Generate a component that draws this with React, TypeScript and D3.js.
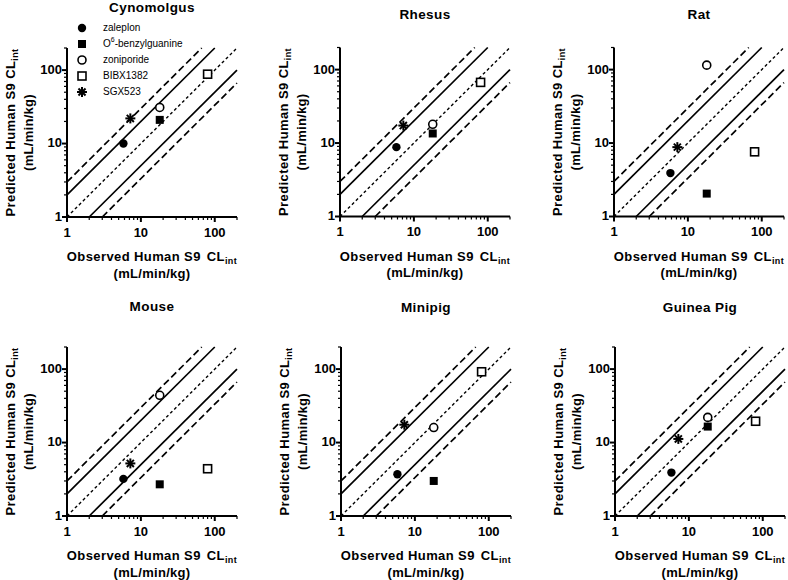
import React from "react";
import * as d3 from "d3";

const speciesNames = ["Cynomolgus", "Rhesus", "Rat", "Mouse", "Minipig", "Guinea Pig"];
const compounds = ["zaleplon", "O6-benzylguanine", "zoniporide", "BIBX1382", "SGX523"];
const compoundSymbols = ["circle", "square", "circleOpen", "squareOpen", "asterisk"];
const observedCL = [5.8, 18, 18, 80, 7.2];
const predCynomolgus = [10, 21, 31, 88, 22];
const predRhesus = [8.8, 13.5, 18, 67, 17.3];
const predRat = [3.9, 2.05, 115, 7.6, 8.8];
const predMouse = [3.2, 2.7, 44, 4.4, 5.2];
const predMinipig = [3.7, 3.0, 16, 92, 17.5];
const predGuineaPig = [3.9, 16.5, 22, 19.5, 11.2];
const predictedBySpecies = [predCynomolgus, predRhesus, predRat, predMouse, predMinipig, predGuineaPig];
const majorTicks = [1, 10, 100];
const minorTicks = [2, 3, 4, 5, 6, 7, 8, 9, 20, 30, 40, 50, 60, 70, 80, 90, 200];
const foldLines = [
  { f: 3, style: "dash" },
  { f: 2, style: "solid" },
  { f: 1, style: "dot" },
  { f: 0.5, style: "solid" },
  { f: 1 / 3, style: "dash" },
];

const FONT = "'Liberation Sans', Arial, Helvetica, sans-serif";
const W = 788, H = 580;

// panel layout: x of y-axis, y of x-axis, title y
const panelLayout = [
  { x0: 67, y0: 217, ty: 8 },
  { x0: 340, y0: 216.5, ty: 15 },
  { x0: 614, y0: 216.5, ty: 15 },
  { x0: 67, y0: 516, ty: 307 },
  { x0: 341, y0: 516, ty: 308 },
  { x0: 615, y0: 516, ty: 308 },
];
const PW = 170, PH = 169;

function Marker({ type, x, y }: { type: string; x: number; y: number }) {
  if (type === "circle") return <circle cx={x} cy={y} r={4.2} fill="#000" />;
  if (type === "circleOpen") return <circle cx={x} cy={y} r={4} fill="#fff" stroke="#000" strokeWidth={1.6} />;
  if (type === "square") return <rect x={x - 4} y={y - 4} width={8} height={8} fill="#000" />;
  if (type === "squareOpen") return <rect x={x - 4} y={y - 4} width={8} height={8} fill="#fff" stroke="#000" strokeWidth={1.6} />;
  const r = 5;
  const angles = [0, 45, 90, 135];
  return (
    <g>
      {angles.map((a) => {
        const rad = (a * Math.PI) / 180;
        return (
          <line key={a} x1={x - r * Math.cos(rad)} y1={y - r * Math.sin(rad)} x2={x + r * Math.cos(rad)} y2={y + r * Math.sin(rad)} stroke="#000" strokeWidth={2} />
        );
      })}
    </g>
  );
}

function Panel({ idx }: { idx: number }) {
  const L = panelLayout[idx];
  const x = d3.scaleLog().domain([1, 200]).range([L.x0, L.x0 + PW]);
  const y = d3.scaleLog().domain([1, 200]).range([L.y0, L.y0 - PH]);
  const preds = predictedBySpecies[idx];
  const cx = L.x0 + PW / 2;
  const cy = L.y0 - PH / 2;
  return (
    <g>
      <text x={cx} y={L.ty} textAnchor="middle" dominantBaseline="middle" fontFamily={FONT} fontWeight="bold" fontSize={13.5} letterSpacing={0.4}>
        {speciesNames[idx]}
      </text>
      {foldLines.map((fl, i) => {
        const xs = Math.max(1, 1 / fl.f);
        const xe = Math.min(200, 200 / fl.f);
        const dash = fl.style === "dash" ? "7,3.5" : fl.style === "dot" ? "3,2.6" : undefined;
        return (
          <line key={i} x1={x(xs)} y1={y(xs * fl.f)} x2={x(xe)} y2={y(xe * fl.f)} stroke="#000" strokeWidth={fl.style === "dot" ? 1.4 : 1.7} strokeDasharray={dash} />
        );
      })}
      {/* axes */}
      <line x1={L.x0} y1={L.y0} x2={L.x0 + PW} y2={L.y0} stroke="#000" strokeWidth={2} />
      <line x1={L.x0} y1={L.y0 + 1} x2={L.x0} y2={L.y0 - PH} stroke="#000" strokeWidth={2} />
      {majorTicks.map((t) => (
        <g key={"mx" + t}>
          <line x1={x(t)} y1={L.y0} x2={x(t)} y2={L.y0 + 5} stroke="#000" strokeWidth={2} />
          <text x={x(t)} y={L.y0 + 16.5} textAnchor="middle" dominantBaseline="middle" fontFamily={FONT} fontWeight="bold" fontSize={13}>
            {t}
          </text>
          <line x1={L.x0} y1={y(t)} x2={L.x0 - 5} y2={y(t)} stroke="#000" strokeWidth={2} />
          <text x={L.x0 - 5} y={y(t) + 0.5} textAnchor="end" dominantBaseline="middle" fontFamily={FONT} fontWeight="bold" fontSize={13}>
            {t}
          </text>
        </g>
      ))}
      {minorTicks.map((t) => (
        <g key={"mn" + t}>
          <line x1={x(t)} y1={L.y0} x2={x(t)} y2={L.y0 + 3} stroke="#000" strokeWidth={1.2} />
          <line x1={L.x0} y1={y(t)} x2={L.x0 - 3} y2={y(t)} stroke="#000" strokeWidth={1.2} />
        </g>
      ))}
      {/* x axis title */}
      <text x={cx} y={L.y0 + 44} textAnchor="middle" fontFamily={FONT} fontWeight="bold" fontSize={13} letterSpacing={0.4}>
        Observed Human S9<tspan dx={6}>CL</tspan>
        <tspan fontSize={9} dy={3}>int</tspan>
      </text>
      <text x={cx} y={L.y0 + 60.5} textAnchor="middle" fontFamily={FONT} fontWeight="bold" fontSize={13} letterSpacing={0.3}>
        (mL/min/kg)
      </text>
      {/* y axis title */}
      <g transform={`translate(${L.x0 - 52},${cy}) rotate(-90)`}>
        <text x={0} y={0} textAnchor="middle" fontFamily={FONT} fontWeight="bold" fontSize={13} letterSpacing={0.4}>
          Predicted Human S9 CL<tspan fontSize={9} dy={3}>int</tspan>
        </text>
      </g>
      <g transform={`translate(${L.x0 - 34},${cy}) rotate(-90)`}>
        <text x={0} y={0} textAnchor="middle" fontFamily={FONT} fontWeight="bold" fontSize={13} letterSpacing={0.3}>
          (mL/min/kg)
        </text>
      </g>
      {/* points */}
      {preds.map((p, i) => (
        <Marker key={i} type={compoundSymbols[i]} x={x(observedCL[i])} y={y(p)} />
      ))}
    </g>
  );
}

function Legend() {
  const lx = 82, ly = 28, dy = 16;
  return (
    <g>
      {compounds.map((c, i) => (
        <g key={c}>
          <Marker type={compoundSymbols[i]} x={lx} y={ly + i * dy} />
          <text x={lx + 21} y={ly + i * dy} dominantBaseline="middle" fontFamily={FONT} fontSize={10}>
            {c === "O6-benzylguanine" ? (
              <>
                O<tspan fontSize={7} dy={-4}>6</tspan>
                <tspan dy={4}>-benzylguanine</tspan>
              </>
            ) : (
              c
            )}
          </text>
        </g>
      ))}
    </g>
  );
}

export default function App() {
  return (
    <svg width={W} height={H} viewBox={`0 0 ${W} ${H}`} style={{ position: "absolute", left: 0, top: 0, background: "#fff" }}>
      <rect width={W} height={H} fill="#fff" />
      {speciesNames.map((_, i) => (
        <Panel key={i} idx={i} />
      ))}
      <Legend />
    </svg>
  );
}
